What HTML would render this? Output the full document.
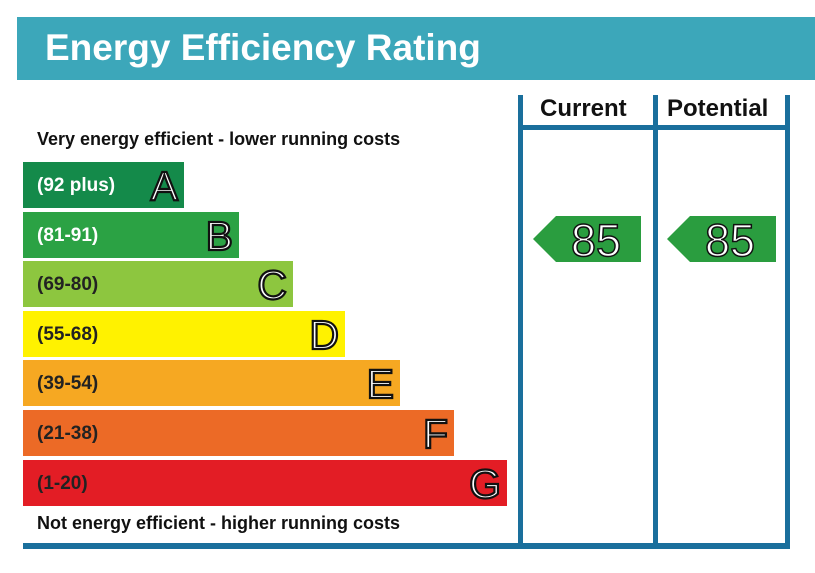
<!DOCTYPE html>
<html><head><style>
body{margin:0;width:815px;height:573px;background:#fff;position:relative;overflow:hidden;font-family:"Liberation Sans",Arial,sans-serif}
.a{position:absolute}
.hdr{left:17px;top:17px;width:798px;height:63px;background:#3ca7ba}
.hdr span{position:absolute;left:28px;top:10px;color:#fff;font-weight:bold;font-size:37px}
.bar{position:absolute;left:23px;height:46px}
.bar .r{position:absolute;left:14px;top:13px;font-weight:bold;font-size:19px;color:#222}
.bar .l{position:absolute;right:6px;top:1px;font-size:41px;color:#fff;-webkit-text-stroke:2.2px #111;font-weight:normal}
.v{position:absolute;background:#1a6f9c}
.t{position:absolute;font-weight:bold;font-size:18px;color:#111}
</style></head><body>
<div class="a hdr"><span>Energy Efficiency Rating</span></div>
<div class="t" style="left:37px;top:129px">Very energy efficient - lower running costs</div>
<div class="t" style="left:37px;top:513px">Not energy efficient - higher running costs</div>
<div class="bar" style="top:162px;width:161px;background:#148a4a"><span class="r" style="color:#fff">(92 plus)</span><span class="l">A</span></div>
<div class="bar" style="top:212px;width:216px;background:#2ba244"><span class="r" style="color:#fff">(81-91)</span><span class="l">B</span></div>
<div class="bar" style="top:261px;width:270px;background:#8dc63f"><span class="r">(69-80)</span><span class="l">C</span></div>
<div class="bar" style="top:311px;width:322px;background:#fff200"><span class="r">(55-68)</span><span class="l">D</span></div>
<div class="bar" style="top:360px;width:377px;background:#f6a822"><span class="r">(39-54)</span><span class="l">E</span></div>
<div class="bar" style="top:410px;width:431px;background:#ec6a26"><span class="r">(21-38)</span><span class="l">F</span></div>
<div class="bar" style="top:460px;width:484px;background:#e31d25"><span class="r">(1-20)</span><span class="l">G</span></div>
<div class="v" style="left:518px;top:95px;width:5px;height:454px"></div>
<div class="v" style="left:653px;top:95px;width:5px;height:454px"></div>
<div class="v" style="left:785px;top:95px;width:5px;height:454px"></div>
<div class="v" style="left:518px;top:125px;width:272px;height:5px"></div>
<div class="v" style="left:23px;top:543px;width:767px;height:6px"></div>
<div class="t" style="left:540px;top:95px;font-size:24px">Current</div>
<div class="t" style="left:667px;top:95px;font-size:24px">Potential</div>
<svg class="a" style="left:0;top:0" width="815" height="573">
<polygon points="533,239 556,216 641,216 641,262 556,262" fill="#2a9d3f"/>
<polygon points="667,239 690,216 776,216 776,262 690,262" fill="#2a9d3f"/>
<text x="596" y="256" text-anchor="middle" font-family="Liberation Sans" font-size="45" fill="#fff" stroke="#111" stroke-width="1.5">85</text>
<text x="730" y="256" text-anchor="middle" font-family="Liberation Sans" font-size="45" fill="#fff" stroke="#111" stroke-width="1.5">85</text>
</svg>
</body></html>
